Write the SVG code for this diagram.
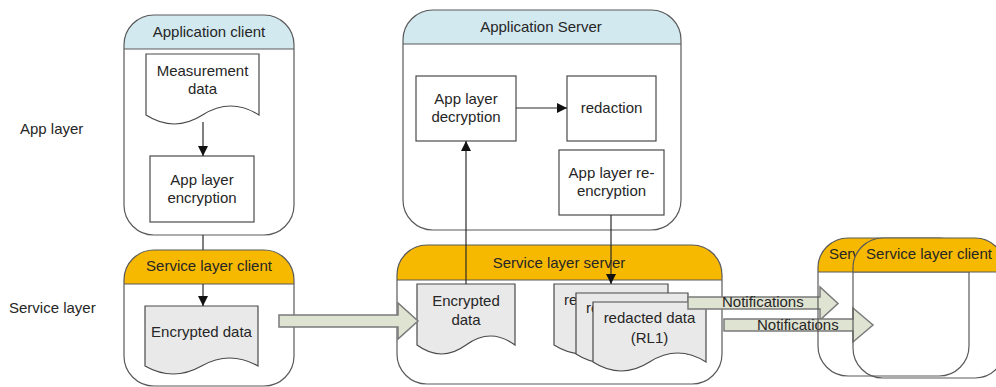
<svg xmlns="http://www.w3.org/2000/svg" width="996" height="387" viewBox="0 0 996 387">
  <defs>
    <style>
      .t { font-family: "Liberation Sans", Arial, sans-serif; font-size: 15px; fill: #262626; }
      .c { text-anchor: middle; }
      .frame { fill: none; stroke: #5a5a5a; stroke-width: 1.2; }
      .body { fill: #ffffff; }
      .hdr-app { fill: #d3e9f0; }
      .hdr-svc { fill: #f7b900; }
      .divider { stroke: #5a5a5a; stroke-width: 1.2; }
      .box { fill: #ffffff; stroke: #4a4a4a; stroke-width: 1.2; }
      .doc { fill: #e9e9e9; stroke: #4a4a4a; stroke-width: 1.2; }
      .link { fill: none; stroke: #2a2a2a; stroke-width: 1.2; }
      .block { fill: #dfe3d2; stroke: #7a7a7a; stroke-width: 1.5; }
    </style>
    <marker id="head" viewBox="0 0 10 10" refX="10" refY="5" markerWidth="10" markerHeight="10" markerUnits="userSpaceOnUse" orient="auto">
      <path d="M0,0 L10,5 L0,10 Z" fill="#111"/>
    </marker>
  </defs>

  <rect width="996" height="387" fill="#ffffff"/>

  <!-- row labels -->
  <g id="row-labels">
    <text class="t" x="20" y="134">App layer</text>
    <text class="t" x="9" y="313">Service layer</text>
  </g>

  <!-- Application client -->
  <g id="application-client">
    <rect class="body" x="124" y="15" width="170" height="220" rx="30"/>
    <path class="hdr-app" d="M124,49 V45 A30,30 0 0 1 154,15 H264 A30,30 0 0 1 294,45 V49 Z"/>
    <rect class="frame" x="124" y="15" width="170" height="220" rx="30"/>
    <line class="divider" x1="124" y1="49" x2="294" y2="49"/>
    <text class="t c" x="209" y="37">Application client</text>
  </g>
  <g id="measurement-data">
    <path class="doc" style="fill:#ffffff" d="M146,54 H259 V115 Q230.75,97 202.5,115 T146,115 Z"/>
    <text class="t c" x="202.5" y="76">Measurement</text>
    <text class="t c" x="202.5" y="94">data</text>
  </g>
  <g id="app-layer-encryption">
    <rect class="box" x="150" y="156" width="104" height="66"/>
    <text class="t c" x="202" y="185">App layer</text>
    <text class="t c" x="202" y="203">encryption</text>
  </g>

  <!-- Service layer client (left) -->
  <g id="service-layer-client">
    <rect class="body" x="124" y="250" width="170" height="136" rx="30"/>
    <path class="hdr-svc" d="M124,284 V280 A30,30 0 0 1 154,250 H264 A30,30 0 0 1 294,280 V284 Z"/>
    <rect class="frame" x="124" y="250" width="170" height="136" rx="30"/>
    <line class="divider" x1="124" y1="284" x2="294" y2="284"/>
    <text class="t c" x="209" y="271">Service layer client</text>
  </g>
  <g id="client-encrypted-data">
    <path class="doc" d="M145,306 H258 V366 Q229.75,350 201.5,366 T145,366 Z"/>
    <text class="t c" x="201.5" y="337">Encrypted data</text>
  </g>

  <!-- Application Server -->
  <g id="application-server">
    <rect class="body" x="403" y="10" width="278" height="220" rx="30"/>
    <path class="hdr-app" d="M403,44 V40 A30,30 0 0 1 433,10 H651 A30,30 0 0 1 681,40 V44 Z"/>
    <rect class="frame" x="403" y="10" width="278" height="220" rx="30"/>
    <line class="divider" x1="403" y1="44" x2="681" y2="44"/>
    <text class="t c" x="541" y="32">Application Server</text>
  </g>
  <g id="app-layer-decryption">
    <rect class="box" x="416" y="76" width="100" height="65"/>
    <text class="t c" x="466" y="104">App layer</text>
    <text class="t c" x="466" y="122">decryption</text>
  </g>
  <g id="redaction">
    <rect class="box" x="567" y="76" width="89" height="65"/>
    <text class="t c" x="611.5" y="113">redaction</text>
  </g>
  <g id="app-layer-re-encryption">
    <rect class="box" x="559" y="150" width="105" height="65"/>
    <text class="t c" x="611.5" y="178">App layer re-</text>
    <text class="t c" x="611.5" y="196">encryption</text>
  </g>

  <!-- Service layer server -->
  <g id="service-layer-server">
    <rect class="body" x="397" y="245" width="325" height="139" rx="30"/>
    <path class="hdr-svc" d="M397,280 V275 A30,30 0 0 1 427,245 H692 A30,30 0 0 1 722,275 V280 Z"/>
    <rect class="frame" x="397" y="245" width="325" height="139" rx="30"/>
    <line class="divider" x1="397" y1="280" x2="722" y2="280"/>
    <text class="t c" x="559" y="268">Service layer server</text>
  </g>
  <g id="server-encrypted-data">
    <path class="doc" d="M417,284 H515 V345 Q490.5,327 466,345 T417,345 Z"/>
    <text class="t c" x="466" y="306">Encrypted</text>
    <text class="t c" x="466" y="325">data</text>
  </g>
  <g id="redacted-data-stack">
    <path class="doc" d="M554,284 H668 V345 Q639.5,327 611,345 T554,345 Z"/>
    <text class="t" x="564" y="305">re</text>
    <path class="doc" d="M576,293 H688 V354 Q660,336 632,354 T576,354 Z"/>
    <text class="t" x="586" y="313">re</text>
    <path class="doc" d="M593,302 H706 V362 Q677.75,344 649.5,362 T593,362 Z"/>
    <text class="t c" x="649.5" y="323">redacted data</text>
    <text class="t c" x="649.5" y="343">(RL1)</text>
  </g>

  <!-- connectors -->
  <g id="connectors">
    <line class="link" x1="203" y1="122" x2="203" y2="156" marker-end="url(#head)"/>
    <line class="link" x1="203" y1="235" x2="203" y2="250"/>
    <line class="link" x1="203" y1="284" x2="203" y2="306" marker-end="url(#head)"/>
    <line class="link" x1="516" y1="108" x2="567" y2="108" marker-end="url(#head)"/>
    <line class="link" x1="466" y1="284" x2="466" y2="141" marker-end="url(#head)"/>
    <line class="link" x1="611" y1="215" x2="611" y2="284" marker-end="url(#head)"/>
    <path class="block" d="M279,315 H398 V303 L418,321 L398,339 V327 H279 Z"/>
    <path class="block" d="M688,297 H820 V287 L838,303.5 L820,320 V309 H688 Z"/>
    <text class="t" x="722" y="307">Notifications</text>
    <path class="block" d="M724,319 H853 V308 L873,325 L853,342 V331 H724 Z"/>
    <text class="t" x="757" y="330">Notifications</text>
  </g>

  <!-- Service layer clients (right) -->
  <g id="service-layer-client-2">
    <path class="hdr-svc" d="M818,272 V268 A30,30 0 0 1 848,238 H939 A30,30 0 0 1 969,268 V272 Z"/>
    <rect class="frame" x="818" y="238" width="151" height="138" rx="30"/>
    <line class="divider" x1="818" y1="272" x2="969" y2="272"/>
    <text class="t" x="829" y="259">Serv</text>
  </g>
  <g id="service-layer-client-3">
    <path class="hdr-svc" d="M853,272 V268 A30,30 0 0 1 883,238 H975 A30,30 0 0 1 1005,268 V272 Z"/>
    <rect class="frame" x="853" y="238" width="152" height="140" rx="30"/>
    <line class="divider" x1="853" y1="272" x2="1005" y2="272"/>
    <text class="t c" x="929" y="259">Service layer client</text>
  </g>
</svg>
